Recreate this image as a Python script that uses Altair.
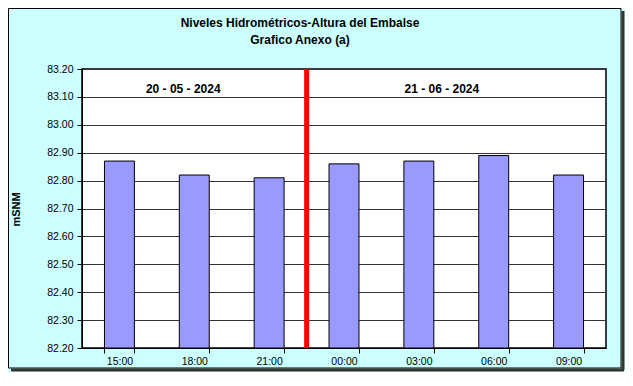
import altair as alt
import pandas as pd

hours = ["15:00", "18:00", "21:00", "00:00", "03:00", "06:00", "09:00"]
levels = [82.87, 82.82, 82.81, 82.86, 82.87, 82.89, 82.82]
y_ticks = [82.20, 82.30, 82.40, 82.50, 82.60, 82.70, 82.80, 82.90, 83.00, 83.10, 83.20]
date_labels = ["20 - 05 - 2024", "21 - 06 - 2024"]
title_lines = ["Niveles Hidrométricos-Altura del Embalse", "Grafico Anexo (a)"]
y_title = "mSNM"
split_after = "21:00"

Y_MIN, Y_MAX = y_ticks[0], y_ticks[-1]
FONT = "Liberation Sans"

df = pd.DataFrame({"hora": hours, "nivel": levels})

x_enc = alt.X(
    "hora:N",
    sort=hours,
    scale=alt.Scale(paddingInner=0.6, paddingOuter=0.3),
    axis=alt.Axis(
        title=None, labelAngle=0, tickBand="extent", grid=False,
        labelFontSize=10.5, labelPadding=3, tickSize=5, labelColor="#000",
        domainColor="#000", tickColor="#000", labelFont=FONT,
    ),
)
y_scale = alt.Scale(domain=[Y_MIN, Y_MAX], nice=False, zero=False)

bars = alt.Chart(df).mark_bar(
    color="#9999FF", stroke="#000000", strokeWidth=1
).encode(
    x=x_enc,
    y=alt.Y(
        "nivel:Q",
        scale=y_scale,
        axis=alt.Axis(
            title=y_title, values=y_ticks, tickCount=len(y_ticks), format=".2f",
            grid=True, labelOverlap=False,
            gridColor="#333333", gridWidth=1, tickSize=5, labelPadding=4,
            labelFontSize=10.5, labelFont=FONT, labelColor="#000",
            domainColor="#000", tickColor="#000",
            titleFont=FONT, titleFontSize=11, titleFontWeight="bold",
            titleAngle=270, titleX=-66, titleY=140, titleAlign="center",
            titleBaseline="middle", titleColor="#000",
        ),
    ),
    y2=alt.datum(Y_MIN),
)

split = alt.Chart(pd.DataFrame({"hora": [split_after]})).mark_rule(
    color="#FF0000", strokeWidth=5, xOffset=37.5
).encode(
    x=alt.X("hora:N", sort=hours),
    y=alt.datum(Y_MIN),
    y2=alt.datum(Y_MAX),
)

txt1 = alt.Chart(pd.DataFrame({"hora": ["18:00"], "t": [date_labels[0]]})).mark_text(
    font=FONT, fontSize=12, fontWeight="bold", color="#000", dx=-11
).encode(x=alt.X("hora:N", sort=hours), y=alt.datum(83.13), text="t:N")

txt2 = alt.Chart(pd.DataFrame({"hora": ["03:00"], "t": [date_labels[1]]})).mark_text(
    font=FONT, fontSize=12, fontWeight="bold", color="#000", dx=23
).encode(x=alt.X("hora:N", sort=hours), y=alt.datum(83.13), text="t:N")

one = alt.Data(values=[{}])
title1 = alt.Chart(alt.Data(values=[{"t": title_lines[0]}])).mark_text(
    font=FONT, fontSize=12, fontWeight="bold", color="#000"
).encode(x=alt.value(218), y=alt.value(-46), text="t:N")
title2 = alt.Chart(alt.Data(values=[{"t": title_lines[1]}])).mark_text(
    font=FONT, fontSize=12, fontWeight="bold", color="#000"
).encode(x=alt.value(218), y=alt.value(-29), text="t:N")

frame = alt.Chart(one).mark_rect(
    fillOpacity=0, stroke="#000000", strokeWidth=1
).encode(
    x=alt.value(-73.5), x2=alt.value(539), y=alt.value(-60.5), y2=alt.value(299)
)
shadow_r = alt.Chart(one).mark_rule(color="#333333", strokeWidth=3).encode(
    x=alt.value(541), y=alt.value(-58), y2=alt.value(301)
)
shadow_b = alt.Chart(one).mark_rule(color="#333333", strokeWidth=3).encode(
    x=alt.value(-71), x2=alt.value(542), y=alt.value(301)
)

chart = alt.layer(
    bars, split, txt1, txt2, title1, title2, frame, shadow_r, shadow_b
).properties(
    width=524,
    height=279,
    autosize=alt.AutoSizeParams(type="none"),
    padding={"left": 74, "top": 61, "right": 19, "bottom": 24},
    background="#CCFFFF",
).configure_view(
    fill="#FFFFFF", stroke="#000000", strokeWidth=1.5
)

chart.save("out.html", embed_options={"renderer": "svg", "actions": False})
